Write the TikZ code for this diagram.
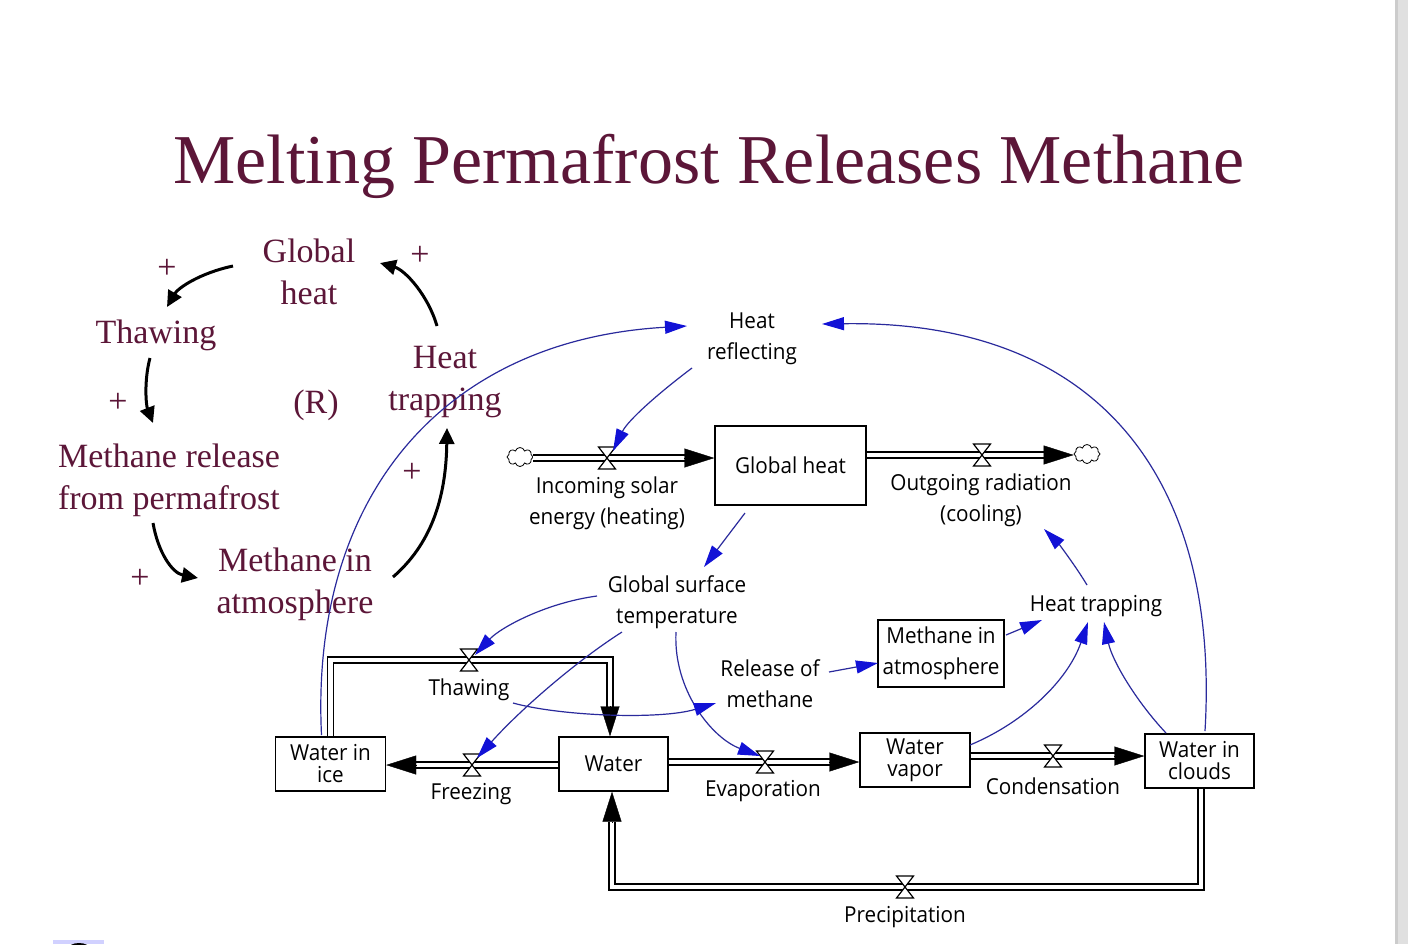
\documentclass[tikz,border=0pt]{standalone}
\usepackage{fontspec}
\setmainfont{Liberation Serif}
\newfontfamily\vfont[FakeStretch=0.94]{Open Sans}
\usetikzlibrary{arrows.meta,calc,shapes.symbols}
\definecolor{maroon}{HTML}{5C1638}
\definecolor{lineblue}{HTML}{2A2A9C}
\definecolor{tipblue}{HTML}{1212D6}
\begin{document}
\begin{tikzpicture}[x=0.5pt,y=-0.5pt,
  cltext/.style={text=maroon, font=\fontsize{17pt}{21pt}\selectfont, align=center, inner sep=0pt},
  vtext/.style={font=\vfont\fontsize{11pt}{15.5pt}\selectfont, align=center, inner sep=0pt},
  stock/.style={draw, line width=0.7pt, fill=white, inner sep=0pt, align=center},
  tightfont/.style={font=\vfont\fontsize{11pt}{11pt}\selectfont},
  widefont/.style={font=\vfont\fontsize{11pt}{15.5pt}\selectfont},
  pipe/.style={draw, line width=0.7pt, double=white, double distance=2.3pt},
  ftip/.style={-{Triangle[length=15pt,width=9.5pt]}, line width=0.2pt},
  blink/.style={draw=lineblue, line width=0.6pt, -{Triangle[length=11pt,width=6.5pt,color=tipblue]}},
  clink/.style={draw=black, line width=1.5pt, -{Triangle[length=8pt,width=7.5pt]}},
  cloudshape/.style={cloud, cloud puffs=8, draw, line width=0.4pt, minimum width=13pt, minimum height=9.5pt, inner sep=0pt},
  valve/.pic={\draw[line width=0.6pt, fill=white] (-8.5,-11) -- (8.5,-11) -- (0,0) -- cycle (-8.5,11) -- (8.5,11) -- (0,0) -- cycle;}
]
\useasboundingbox[fill=white] (0,0) rectangle (1408,944);
% right gray bar and bottom-left fragment
\fill[black!12] (1395,0) rectangle (1408,944);
\fill[black!20] (1395,0) rectangle (1397.5,944);
\fill[blue!18] (53,940) rectangle (104,944);
\fill[black] (79,949) ellipse [x radius=11, y radius=6];

% title
\node[text=maroon, font=\fontsize{35pt}{42pt}\selectfont, anchor=base, inner sep=0pt] (title) at (709,183) {Melting Permafrost Releases Methane};

% causal loop
\node[cltext] (cgh) at (309,272) {Global\\heat};
\node[cltext] (cth) at (156,335) {Thawing};
\node[cltext] (cht) at (445,382) {Heat\\trapping};
\node[cltext] (cr) at (316,405) {(R)};
\node[cltext] (cmr) at (169,480) {Methane release\\from permafrost};
\node[cltext] (cma) at (295,584) {Methane in\\atmosphere};
\node[cltext] (p1) at (167,269) {+};
\node[cltext] (p2) at (420,256) {+};
\node[cltext] (p3) at (118,403) {+};
\node[cltext] (p4) at (412,473) {+};
\node[cltext] (p5) at (140,579) {+};

\draw[clink] ($(cgh)+(-76,-6)$) .. controls (200,273) and (178,288) .. ($(cth)+(11,-28)$);
\draw[clink] ($(cth)+(-6,23)$) .. controls (144,380) and (146,405) .. ($(cmr)+(-16,-57)$);
\draw[clink] ($(cmr)+(-16,43)$) .. controls (158,552) and (172,573) .. ($(cma)+(-97,-6)$);
\draw[clink] ($(cma)+(98,-7)$) .. controls (430,545) and (446,500) .. ($(cht)+(2,46)$);
\draw[clink] ($(cht)+(-8,-56)$) .. controls (428,295) and (405,270) .. ($(cgh)+(71,-9)$);

% valve and cloud positions
\coordinate (vin) at (607,458);
\coordinate (vout) at (982,455);
\coordinate (vth) at (469,660);
\coordinate (vfr) at (472,765);
\coordinate (vev) at (765,762);
\coordinate (vcd) at (1053,756);
\coordinate (vpr) at (905,887);

% stocks
\node[stock, widefont, minimum width=75.5pt, minimum height=39.5pt] (gh) at (790.5,465.5) {Global heat};
\node[stock, widefont, minimum width=63pt, minimum height=33.5pt] (mia) at (941,653.5) {Methane in\\atmosphere};
\node[stock, tightfont, minimum width=55pt, minimum height=27pt] (wice) at (330.5,764) {Water in\\ice};
\node[stock, tightfont, minimum width=54.5pt, minimum height=27pt] (water) at (613.5,764) {Water};
\node[stock, tightfont, minimum width=55pt, minimum height=27pt] (wvap) at (915,760) {Water\\vapor};
\node[stock, tightfont, minimum width=54.5pt, minimum height=27pt] (wcl) at (1199.5,761) {Water in\\clouds};

% clouds
\node[cloudshape] (c1) at (520,457) {};
\node[cloudshape] (c2) at (1087,454) {};

% pipes
\draw[pipe] (c1.east |- vin) -- ($(gh.west)+(-29,-7.5)$);
\draw[ftip] ($(gh.west)+(-30,-7.5)$) -- ($(gh.west)+(0,-7.5)$);
\draw[pipe] ($(gh.east)+(0,-10.5)$) -- ($(c2.west |- vout)+(-27,0)$);
\draw[ftip] ($(c2.west |- vout)+(-28,0)$) -- (c2.west |- vout);
\draw[pipe] (wice.north) |- (vth) -| ($(water.north)+(-3.5,-28)$);
\draw[ftip] ($(water.north)+(-3.5,-29)$) -- ($(water.north)+(-3.5,0)$);
\draw[pipe] ($(water.west)+(0,1)$) -- ($(wice.east)+(29,1)$);
\draw[ftip] ($(wice.east)+(30,1)$) -- ($(wice.east)+(0,1)$);
\draw[pipe] ($(water.east)+(0,-2)$) -- ($(wvap.west)+(-29,2)$);
\draw[ftip] ($(wvap.west)+(-30,2)$) -- ($(wvap.west)+(0,2)$);
\draw[pipe] ($(wvap.east)+(0,-4)$) -- ($(wcl.west)+(-29,-5)$);
\draw[ftip] ($(wcl.west)+(-30,-5)$) -- ($(wcl.west)+(0,-5)$);
\draw[pipe] ($(wcl.south)+(1.5,0)$) |- (vpr) -| ($(water.south)+(-1.5,30)$);
\draw[ftip] ($(water.south)+(-1.5,31)$) -- ($(water.south)+(-1.5,0)$);

% valves
\pic at (vin) {valve};
\pic at (vout) {valve};
\pic at (vth) {valve};
\pic at (vfr) {valve};
\pic at (vev) {valve};
\pic at (vcd) {valve};
\pic at (vpr) {valve};

% variable and flow labels
\node[vtext] (hr) at (752,339) {Heat\\reflecting};
\node[vtext] (isol) at (607,503) {Incoming solar\\energy (heating)};
\node[vtext] (outr) at (981,500) {Outgoing radiation\\(cooling)};
\node[vtext] (gst) at (677,602) {Global surface\\temperature};
\node[vtext] (rel) at (770,684) {Release of\\methane};
\node[vtext] (htr) at (1096,606) {Heat trapping};
\node[vtext] (thw) at (469,690) {Thawing};
\node[vtext] (frz) at (471,794) {Freezing};
\node[vtext] (evp) at (763,791) {Evaporation};
\node[vtext] (cond) at (1053,786) {Condensation};
\node[vtext] (prec) at (905,917) {Precipitation};

% blue information links
\draw[blink] ($(wice)+(-9,-29)$) .. controls (310,500) and (440,340) .. ($(hr)+(-65,-13)$);
\draw[blink] ($(wcl)+(5.5,-30)$) .. controls (1220,480) and (1100,320) .. ($(hr)+(70,-15)$);
\draw[blink] ($(hr)+(-60,29)$) .. controls (660,392) and (628,420) .. ($(vin)+(6,-7)$);
\draw[blink] ($(gh)+(-45.5,47.5)$) -- ($(gst)+(27,-35)$);
\draw[blink] ($(gst)+(-80,-6)$) .. controls (545,603) and (500,628) .. ($(vth)+(6,-5)$);
\draw[blink] ($(gst)+(-55,30)$) .. controls (575,662) and (520,710) .. ($(vfr)+(5,-7)$);
\draw[blink] ($(gst)+(-1,30)$) .. controls (673,690) and (712,738) .. ($(vev)+(-5,-6)$);
\draw[blink] ($(thw)+(44,13)$) .. controls (560,716) and (660,720) .. ($(rel)+(-54,19)$);
\draw[blink] ($(rel)+(59,-12)$) -- ($(mia)+(-63,9.5)$);
\draw[blink] ($(mia)+(65,-18.5)$) -- ($(htr)+(-54,14)$);
\draw[blink] ($(wvap)+(55,-15)$) .. controls (1025,722) and (1068,680) .. ($(htr)+(-8,16)$);
\draw[blink] ($(wcl)+(-33.5,-28)$) .. controls (1135,700) and (1112,660) .. ($(htr)+(8,16)$);
\draw[blink] ($(htr)+(-9,-21)$) .. controls (1075,565) and (1058,543) .. ($(outr)+(63,29)$);
\end{tikzpicture}
\end{document}
